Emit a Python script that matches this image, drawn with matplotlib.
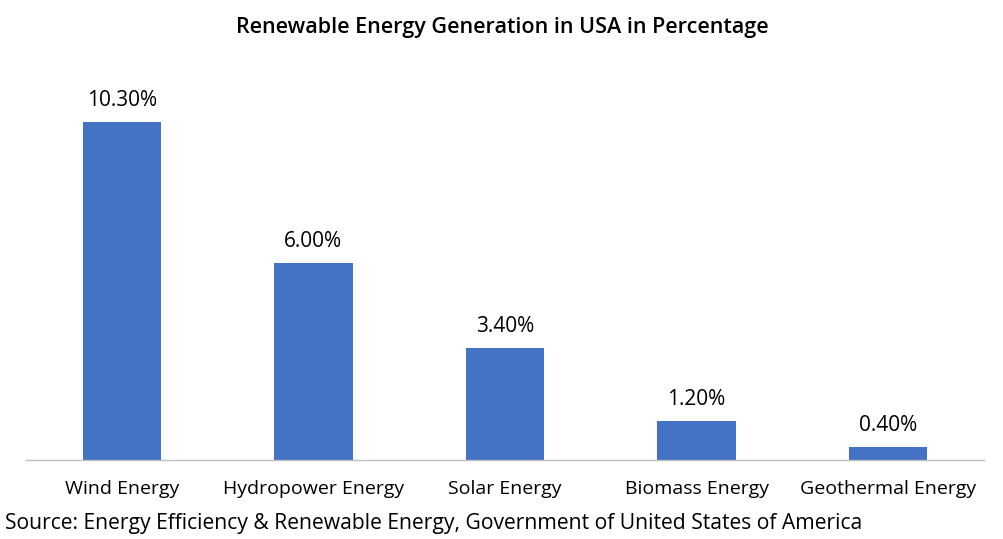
import matplotlib.pyplot as plt

plt.rcParams['font.family'] = ['Open Sans', 'DejaVu Sans']

# data
categories = ['Wind Energy', 'Hydropower Energy', 'Solar Energy',
              'Biomass Energy', 'Geothermal Energy']
values = [10.3, 6.0, 3.4, 1.2, 0.4]

bar_color = '#4472C4'
text_color = '#000000'

fig = plt.figure(figsize=(10.04, 5.39), dpi=100)
ax = fig.add_axes([26 / 1004, 1 - 460 / 539, 958 / 1004, 380 / 539])

x = range(len(categories))
bars = ax.bar(x, values, width=0.41, color=bar_color, zorder=2)

for xi, v in zip(x, values):
    ax.annotate(f'{v:.2f}%', (xi, v), xytext=(0, 8), textcoords='offset points',
                ha='center', va='bottom', fontsize=15, color=text_color)

ax.set_xlim(-0.5, len(categories) - 0.5)
ax.set_ylim(0, 380 / 32.8)
ax.set_xticks(list(x))
ax.set_xticklabels(categories, fontsize=14, color=text_color)
ax.tick_params(axis='x', length=0, pad=14.5)
ax.set_yticks([])
for side in ['top', 'right', 'left']:
    ax.spines[side].set_visible(False)
ax.spines['bottom'].set_color('#BFBFBF')
ax.spines['bottom'].set_linewidth(1)

fig.text(0.5, 1 - 28 / 539, 'Renewable Energy Generation in USA in Percentage',
         ha='center', va='center', fontsize=15.5, fontweight='semibold', color=text_color)
fig.text(5 / 1004, 1 - 523 / 539,
         'Source: Energy Efficiency & Renewable Energy, Government of United States of America',
         ha='left', va='center', fontsize=15.2, color=text_color)

fig.savefig('out.png', dpi=100, facecolor='white')
